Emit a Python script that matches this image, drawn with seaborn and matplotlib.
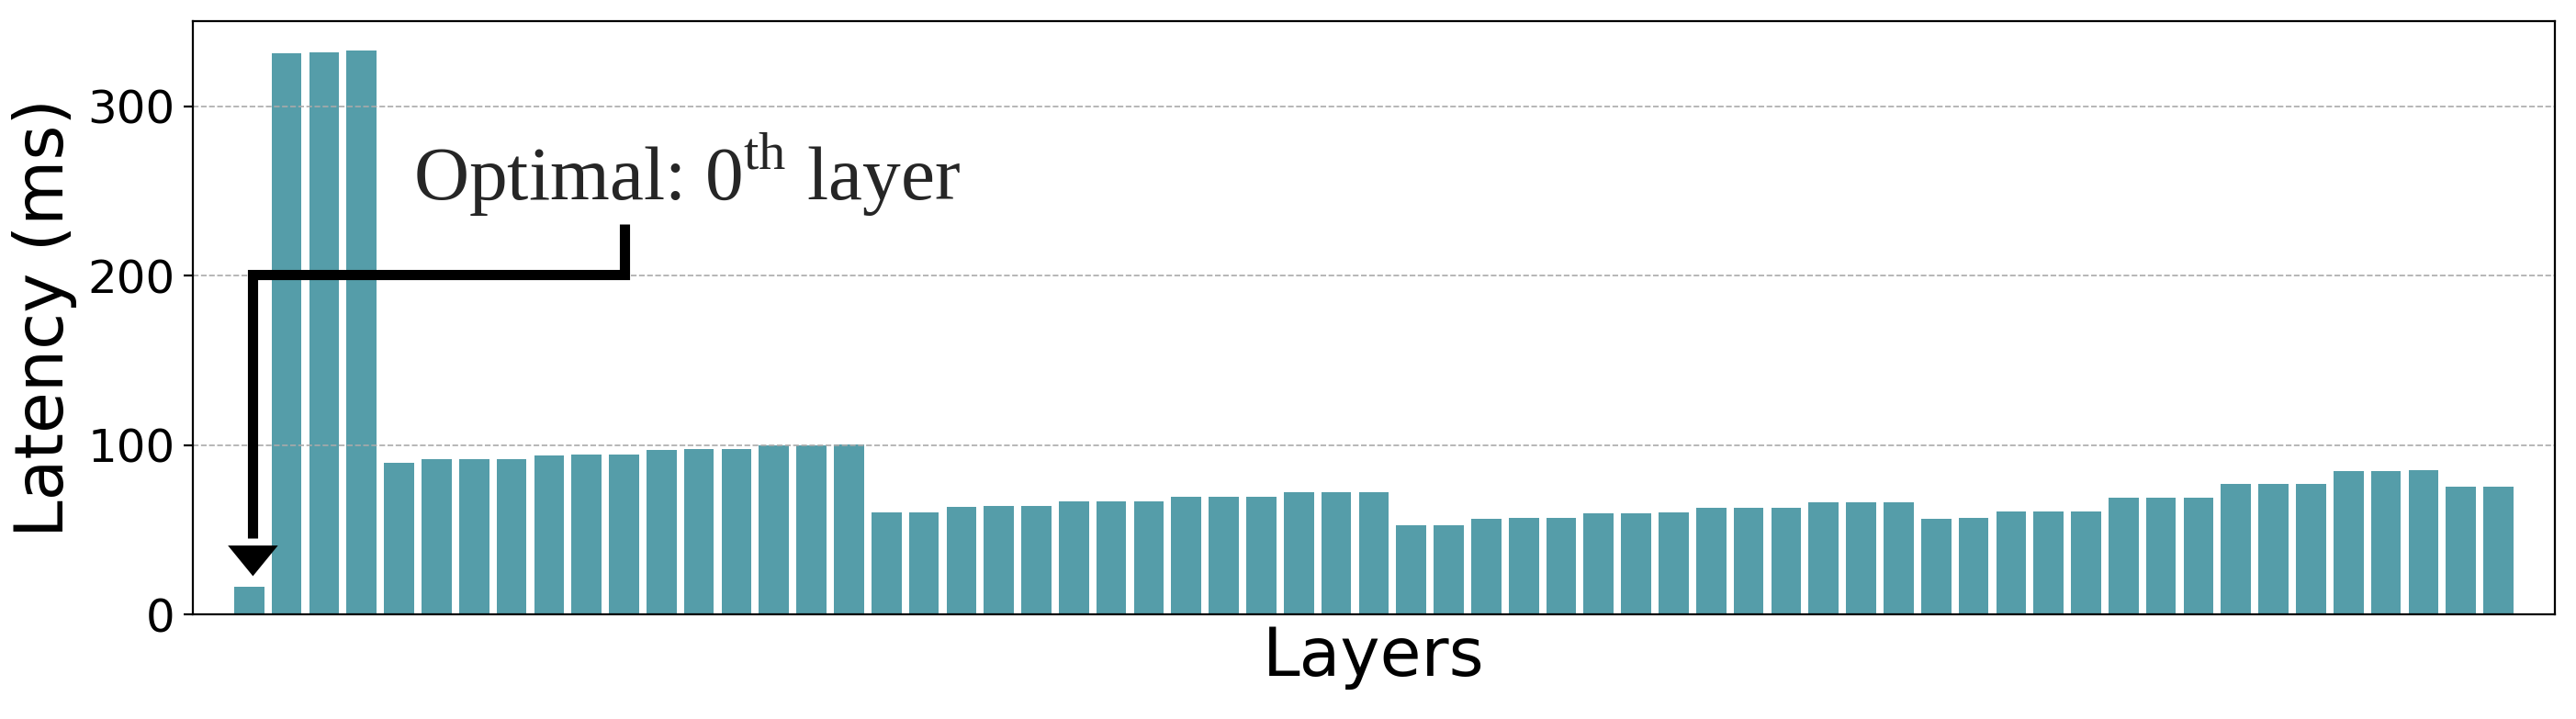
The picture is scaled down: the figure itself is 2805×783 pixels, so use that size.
import matplotlib
matplotlib.use("Agg")
import pandas as pd
from matplotlib import pyplot as plt
import seaborn as sns

# latency per layer (ms)
latency = [16.4, 331.4, 331.9, 333.0, 89.5, 91.6, 91.9, 91.9, 94.0, 94.3,
           94.6, 97.0, 97.6, 97.6, 100.0, 100.0, 100.4, 60.2, 60.2, 63.8,
           64.0, 64.0, 66.7, 66.7, 66.7, 69.4, 69.4, 69.7, 72.1, 72.1,
           72.1, 52.6, 52.6, 56.4, 56.9, 56.9, 59.6, 59.6, 60.2, 62.9,
           62.9, 63.1, 66.1, 66.1, 66.1, 56.4, 56.9, 60.7, 60.7, 60.7,
           68.8, 69.0, 69.0, 76.9, 77.3, 77.3, 84.9, 84.9, 85.0, 75.3,
           75.3]
layers = list(range(len(latency)))
yticks = [0, 100, 200, 300]

df = pd.DataFrame({"layer": layers, "latency": latency})

fig = plt.figure(figsize=(14.025, 3.915), dpi=200)
ax = fig.add_axes([0.0749, 0.1452, 0.9168, 0.825])

sns.barplot(data=df, x="layer", y="latency", color="#559da9",
            saturation=1, width=0.8, ax=ax)

ax.set_xlim(-1.5, len(latency) + 0.5)
ax.set_ylim(0, 350)
ax.set_xticks([])
ax.set_yticks(yticks)
ax.tick_params(axis="y", labelsize=18)
ax.yaxis.grid(True, linestyle="--", color="#aaaaaa", linewidth=0.6)
ax.set_xlabel("Layers", fontsize=26.3)
ax.set_ylabel("Latency (ms)", fontsize=26.3)

# bracket pointing at the optimal layer
ax.plot([10, 10, 0.1, 0.1], [230.5, 200.5, 200.5, 45], color="black",
        lw=4, solid_joinstyle="miter", solid_capstyle="butt", zorder=5)
ax.annotate("", xy=(0.1, 22.7), xytext=(0.1, 60),
            arrowprops=dict(arrowstyle="-|>,head_length=0.6,head_width=0.49",
                            mutation_scale=20, lw=0, color="black",
                            shrinkA=0, shrinkB=0), zorder=6)

plt.rcParams["mathtext.fontset"] = "custom"
plt.rcParams["mathtext.rm"] = "Liberation Serif"
ax.text(4.37, 244.7, r"Optimal: 0$^{\mathrm{th}}$ layer", fontsize=30,
        family="Liberation Serif", color="#262626", ha="left", va="baseline")

fig.savefig("out.png", dpi=200)
